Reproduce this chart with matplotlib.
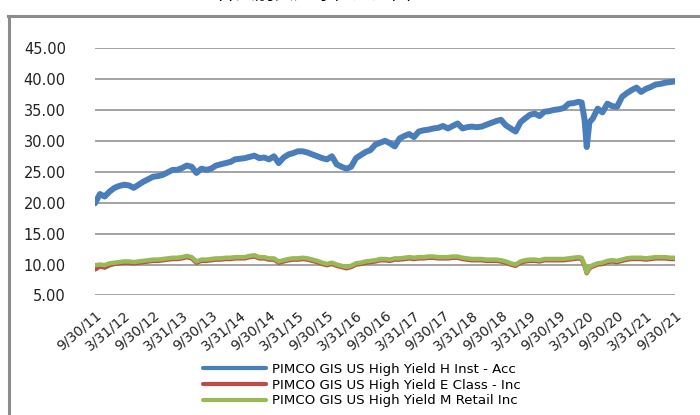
import matplotlib
matplotlib.use("Agg")
import matplotlib.pyplot as plt
from matplotlib.lines import Line2D
import numpy as np
import pandas as pd

# month-end points Sep 2011 .. Jan 2020, a few points through the Covid drop, then monthly again
crash_dates = ["2020-02-20", "2020-03-09", "2020-03-23", "2020-04-09"]
dates = list(pd.date_range("2011-09-30", "2020-01-31", freq="ME")) \
    + list(pd.to_datetime(crash_dates)) \
    + list(pd.date_range("2020-04-30", "2021-09-30", freq="ME"))

h_inst_acc = [
    19.9, 21.4, 21.0, 21.8,
    22.4, 22.7, 22.9, 22.8, 22.4, 22.9, 23.4, 23.8, 24.2, 24.3, 24.5, 24.9,
    25.3, 25.3, 25.6, 26.0, 25.8, 24.8, 25.5, 25.3, 25.5, 26.0, 26.2, 26.4,
    26.6, 27.0, 27.1, 27.2, 27.4, 27.6, 27.2, 27.3, 27.0, 27.5, 26.4, 27.3,
    27.8, 28.0, 28.3, 28.3, 28.1, 27.8, 27.5, 27.2, 27.0, 27.5, 26.2, 25.8,
    25.5, 25.8, 27.2, 27.7, 28.2, 28.5, 29.4, 29.7, 30.0, 29.6, 29.1, 30.4,
    30.8, 31.1, 30.6, 31.5, 31.7, 31.8, 32.0, 32.1, 32.4, 32.0, 32.4, 32.8,
    32.0, 32.2, 32.3, 32.2, 32.3, 32.6, 32.9, 33.2, 33.4, 32.5, 32.0, 31.5,
    33.0, 33.6, 34.2, 34.4, 34.0, 34.7, 34.8, 35.0, 35.1, 35.3, 36.0, 36.1,
    36.3,
    36.2, 33.5, 29.0, 33.0,
    33.6, 35.2, 34.6, 36.0, 35.6, 35.5, 37.1, 37.7, 38.2,
    38.6, 37.9, 38.4, 38.7, 39.1, 39.2, 39.4, 39.5, 39.6,
]

e_class_inc = [
    9.2, 9.7, 9.5, 9.9,
    10.1, 10.2, 10.3, 10.3, 10.2, 10.3, 10.4, 10.5, 10.6, 10.6, 10.7, 10.8,
    10.9, 10.9, 11.0, 11.2, 11.0, 10.3, 10.6, 10.6, 10.7, 10.8, 10.8, 10.9,
    10.9, 11.0, 11.0, 11.0, 11.2, 11.3, 11.0, 11.0, 10.8, 10.8, 10.3, 10.5,
    10.7, 10.8, 10.8, 10.9, 10.8, 10.6, 10.4, 10.1, 9.9, 10.1, 9.8, 9.6,
    9.4, 9.6, 10.0, 10.1, 10.3, 10.4, 10.5, 10.7, 10.7, 10.6, 10.8, 10.8,
    10.9, 11.0, 10.9, 11.0, 11.0, 11.1, 11.1, 11.0, 11.0, 11.0, 11.1, 11.1,
    10.9, 10.8, 10.7, 10.7, 10.7, 10.6, 10.6, 10.6, 10.5, 10.3, 10.0, 9.8,
    10.3, 10.5, 10.6, 10.6, 10.5, 10.7, 10.7, 10.7, 10.7, 10.7, 10.8, 10.9,
    11.0,
    10.9, 9.8, 8.6, 9.4,
    9.7, 10.0, 10.1, 10.4, 10.5, 10.4, 10.6, 10.8, 10.9,
    10.9, 10.9, 10.8, 10.9, 11.0, 11.0, 11.0, 10.9, 10.9,
]

m_retail_inc = [
    9.9, 10.0, 9.9, 10.2,
    10.3, 10.4, 10.5, 10.5, 10.4, 10.5, 10.6, 10.7, 10.8, 10.8, 10.9, 11.0,
    11.1, 11.1, 11.2, 11.4, 11.2, 10.5, 10.8, 10.8, 10.9, 11.0, 11.0, 11.1,
    11.1, 11.2, 11.2, 11.2, 11.4, 11.5, 11.2, 11.2, 11.0, 11.0, 10.5, 10.7,
    10.9, 11.0, 11.0, 11.1, 11.0, 10.8, 10.6, 10.3, 10.1, 10.3, 10.0, 9.8,
    9.6, 9.8, 10.2, 10.3, 10.5, 10.6, 10.7, 10.9, 10.9, 10.8, 11.0, 11.0,
    11.1, 11.2, 11.1, 11.2, 11.2, 11.3, 11.3, 11.2, 11.2, 11.2, 11.3, 11.3,
    11.1, 11.0, 10.9, 10.9, 10.9, 10.8, 10.8, 10.8, 10.7, 10.5, 10.2, 10.0,
    10.5, 10.7, 10.8, 10.8, 10.7, 10.9, 10.9, 10.9, 10.9, 10.9, 11.0, 11.1,
    11.2,
    11.1, 10.0, 8.7, 9.6,
    9.9, 10.2, 10.3, 10.6, 10.7, 10.6, 10.8, 11.0, 11.1,
    11.1, 11.1, 11.0, 11.1, 11.2, 11.2, 11.2, 11.1, 11.1,
]

series_names = [
    "PIMCO GIS US High Yield H Inst - Acc",
    "PIMCO GIS US High Yield E Class - Inc",
    "PIMCO GIS US High Yield M Retail Inc",
]
colors = ["#4a7ebb", "#be4b48", "#98b954"]
widths = [4.3, 3.2, 3.2]

tick_dates = pd.to_datetime([
    "2011-09-30", "2012-03-31", "2012-09-30", "2013-03-31", "2013-09-30",
    "2014-03-31", "2014-09-30", "2015-03-31", "2015-09-30", "2016-03-31",
    "2016-09-30", "2017-03-31", "2017-09-30", "2018-03-31", "2018-09-30",
    "2019-03-31", "2019-09-30", "2020-03-31", "2020-09-30", "2021-03-31",
    "2021-09-30",
])
tick_labels = [f"{d.month}/{d.day}/{d.strftime('%y')}" for d in tick_dates]

fig = plt.figure(figsize=(7, 4.15), dpi=100)
ax = fig.add_axes([0.1357, 0.288, 0.8286, 0.5963])

for vals, name, c, lw in zip([h_inst_acc, e_class_inc, m_retail_inc], series_names, colors, widths):
    ax.plot(dates, vals, color=c, lw=lw, label=name, solid_capstyle="round", solid_joinstyle="round")

ax.set_ylim(5, 45)
ax.set_yticks(np.arange(5, 46, 5))
ax.yaxis.set_major_formatter(matplotlib.ticker.FormatStrFormatter("%.2f"))
ax.set_xlim(tick_dates[0], tick_dates[-1])
ax.set_xticks(tick_dates)
ax.set_xticklabels(tick_labels, rotation=40, ha="right", va="top", rotation_mode="anchor")

ax.grid(axis="y", color="#8a8a8a", lw=1.1)
ax.set_axisbelow(True)
for s in ax.spines.values():
    s.set_visible(False)
ax.tick_params(axis="y", length=0, pad=21, labelsize=10.5, labelcolor="#222222")
ax.tick_params(axis="x", length=0, pad=9, labelsize=10, labelcolor="#222222")

leg = fig.legend(loc="upper left", bbox_to_anchor=(0.29, 0.125), frameon=False,
                 fontsize=9.6, handlelength=4.75, handletextpad=0.45, labelspacing=0.2,
                 borderaxespad=0, borderpad=0)
for h in leg.get_lines():
    h.set_linewidth(3.0)

# outer chart frame, cut off at the right and bottom of the picture
fig.add_artist(Line2D([0.013, 0.013], [0.0, 0.962], transform=fig.transFigure, color="#8c8c8c", lw=2.2))
fig.add_artist(Line2D([0.012, 1.0], [0.962, 0.962], transform=fig.transFigure, color="#8c8c8c", lw=2.2))

# title above the frame, mostly outside the picture
fig.text(0.42, 0.99, "基金各类别资产净值走势图", ha="center", va="bottom", fontsize=14,
         family=["Noto Sans CJK SC", "DejaVu Sans"])

fig.savefig("out.png", dpi=100)
